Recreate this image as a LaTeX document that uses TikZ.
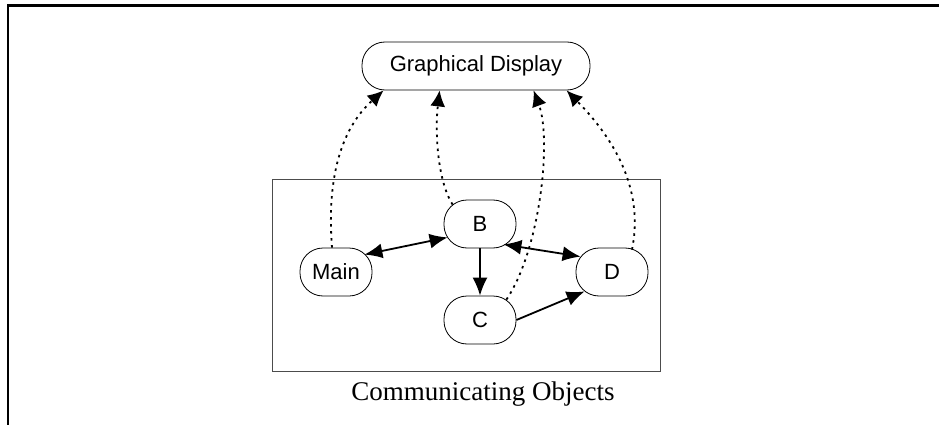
\documentclass[tikz,border=0pt]{standalone}
\usepackage{fontspec}
\setmainfont{Liberation Serif}
\newfontfamily\objfont{Liberation Sans}
\usetikzlibrary{arrows.meta}

\begin{document}
\begin{tikzpicture}[x=1pt, y=-1pt,
    obj/.style={draw, line width=0.8pt, rectangle, rounded corners=23pt,
        minimum width=72pt, minimum height=48pt, inner sep=0pt, font=\objfont\fontsize{22}{24}\selectfont},
    link/.style={line width=1.8pt, -{Latex[length=18pt,width=15pt]}},
    twolink/.style={line width=1.8pt, {Latex[length=18pt,width=15pt]}-{Latex[length=18pt,width=15pt]}},
    displink/.style={line width=1.8pt, dash pattern=on 2.5pt off 4.5pt, -{Latex[length=16pt,width=15pt]}}]
        \useasboundingbox (0,0) rectangle (939,425);

        % --- Outer frame (cut off at right and bottom) ---
        \draw[line width=2.5pt, line join=miter] (8,425) -- (8,5.5) -- (939,5.5);
        % ---

        % --- Box of communicating objects ---
        \node[draw, line width=0.8pt, black!70, minimum width=388pt, minimum height=192pt] (box) at (466,275) {};
        \node[anchor=base, font=\fontsize{27}{30}\selectfont] (caption) at (483,400) {Communicating Objects};
        % ---

        % --- Objects ---
        \node[obj, minimum width=228pt] (gd) at (476,66) {Graphical Display};
        \node[obj] (main) at (336,272) {Main};
        \node[obj] (b) at (480,224) {B};
        \node[obj] (c) at (480,320) {C};
        \node[obj] (d) at (612,272) {D};
        % ---

        % --- Messages between objects ---
        \draw[twolink] ([xshift=-8pt,yshift=-7pt]main.north east) -- ([xshift=4pt,yshift=11pt]b.south west);
        \draw[link] (b.south) -- (c.north);
        \draw[twolink] ([xshift=-13pt,yshift=4pt]b.south east) -- ([xshift=5pt,yshift=-9pt]d.north west);
        \draw[link] (c.east) -- ([xshift=9pt,yshift=5pt]d.south west);
        % ---

        % --- Updates of the display ---
        \draw[displink] ([xshift=-4pt]main.north) .. controls (326,170) and (345,125) .. ([xshift=22pt]gd.south west);
        \draw[displink] ([xshift=9pt,yshift=-5pt]b.north west) .. controls (437,180) and (435,130) .. ([xshift=78pt]gd.south west);
        \draw[displink] ([xshift=-10pt,yshift=-4pt]c.north east) .. controls (540,250) and (552,140) .. ([xshift=172pt]gd.south west);
        \draw[displink] ([xshift=20pt,yshift=-2pt]d.north) .. controls (642,200) and (625,150) .. ([xshift=205pt]gd.south west);
        % ---
\end{tikzpicture}
\end{document}
